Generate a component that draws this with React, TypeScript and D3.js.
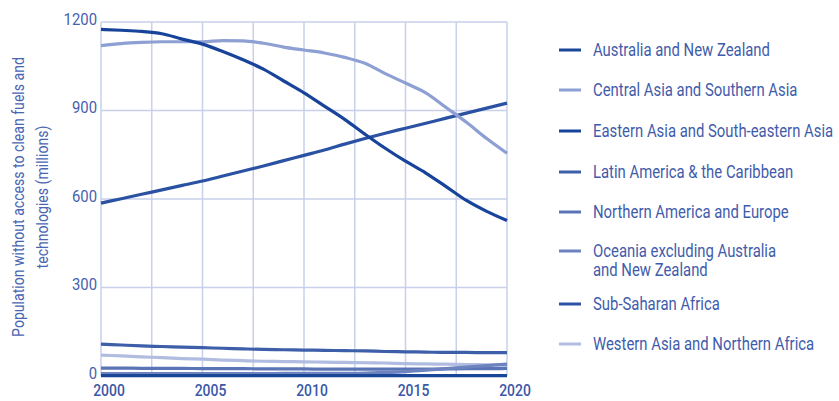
import { useEffect, useRef } from "react"
import * as d3 from "d3"

const years = d3.range(2000, 2021)

const regions = [
  "Australia and New Zealand",
  "Central Asia and Southern Asia",
  "Eastern Asia and South-eastern Asia",
  "Latin America & the Caribbean",
  "Northern America and Europe",
  "Oceania excluding Australia and New Zealand",
  "Sub-Saharan Africa",
  "Western Asia and Northern Africa",
]

const colors = ["#1a4698", "#8d9fd3", "#17439a", "#3d5ea9", "#5a74b6", "#6c83c0", "#2b52a2", "#b0bde0"]

// millions of people, 2000..2020
const australiaNz = [1, 1, 1, 1, 1, 1, 1, 1, 1, 1, 1, 1, 1, 1, 1, 1, 1, 1, 1, 1, 1]
const centralSouthAsia = [1120, 1127, 1131, 1133, 1133, 1133, 1137, 1136, 1128, 1115, 1105, 1095, 1080, 1060, 1025, 993, 960, 910, 860, 805, 755]
const eastSouthEastAsia = [1175, 1172, 1168, 1160, 1142, 1125, 1100, 1072, 1040, 1000, 960, 915, 870, 820, 772, 728, 688, 642, 595, 558, 527]
const latinAmerica = [108, 105, 102, 100, 98, 96, 94, 92, 90, 89, 88, 87, 86, 85, 83, 82, 81, 80, 80, 79, 79]
const northAmericaEurope = [27, 27, 26, 26, 26, 25, 25, 25, 24, 24, 24, 23, 23, 23, 23, 23, 23, 24, 25, 25, 26]
const oceania = [8, 8, 8, 8, 8, 8, 8, 8, 8, 9, 9, 9, 9, 10, 12, 15, 20, 25, 30, 35, 40]
const subSaharanAfrica = [586, 601, 616, 631, 646, 661, 678, 695, 712, 730, 748, 766, 786, 805, 823, 840, 857, 874, 891, 908, 925]
const westAsiaNorthAfrica = [71, 68, 65, 62, 59, 57, 54, 52, 50, 49, 48, 47, 46, 45, 44, 42, 41, 40, 39, 38, 37]

const series = [
  australiaNz,
  centralSouthAsia,
  eastSouthEastAsia,
  latinAmerica,
  northAmericaEurope,
  oceania,
  subSaharanAfrica,
  westAsiaNorthAfrica,
]

const yTicks = [0, 300, 600, 900, 1200]
const xTicks = [2000, 2005, 2010, 2015, 2020]

export default function App() {
  const svgRef = useRef<SVGSVGElement>(null)

  useEffect(() => {
    if (!svgRef.current) return
    const svg = d3.select(svgRef.current)
    svg.selectAll("*").remove()

    const margin = { top: 22, left: 101, right: 332, bottom: 25 }
    const width = 839
    const height = 401
    const x = d3.scaleLinear().domain([2000, 2020]).range([margin.left, width - margin.right])
    const y = d3.scaleLinear().domain([0, 1200]).range([height - margin.bottom, margin.top])

    // condensed look: Roboto squeezed horizontally
    const squeeze = 0.85

    const grid = svg.append("g").attr("stroke", "#c9d0ea").attr("stroke-width", 1.5)
    grid
      .selectAll("line.v")
      .data(d3.range(2000, 2020.1, 2.5))
      .join("line")
      .attr("x1", (d) => x(d))
      .attr("x2", (d) => x(d))
      .attr("y1", y(1200))
      .attr("y2", y(0))
    grid
      .selectAll("line.h")
      .data(yTicks)
      .join("line")
      .attr("x1", x(2000))
      .attr("x2", x(2020))
      .attr("y1", (d) => y(d))
      .attr("y2", (d) => y(d))

    svg
      .append("g")
      .selectAll("text")
      .data(yTicks)
      .join("text")
      .attr("transform", (d) => `translate(${x(2000) - 4}, ${y(d) - 3}) scale(0.9, 1)`)
      .attr("text-anchor", "end")
      .attr("dominant-baseline", "central")
      .attr("fill", "#4661ae")
      .attr("font-size", 16.5)
      .text((d) => d)

    svg
      .append("g")
      .selectAll("text")
      .data(xTicks)
      .join("text")
      .attr("transform", (d) => `translate(${x(d) + 8}, 390.5) scale(0.82, 1)`)
      .attr("text-anchor", "middle")
      .attr("dominant-baseline", "central")
      .attr("fill", "#3a57a8")
      .attr("font-size", 17)
      .attr("font-weight", 500)
      .text((d) => d)

    const title = svg
      .append("text")
      .attr("transform", `translate(18, 197) rotate(-90) scale(0.88, 1)`)
      .attr("text-anchor", "middle")
      .attr("fill", "#4a66b3")
      .attr("font-size", 16)
    title.append("tspan").attr("x", 0).attr("dy", "0.35em").text("Population without access to clean fuels and")
    title.append("tspan").attr("x", 0).attr("dy", 24).text("technologies (millions)")

    const line = d3
      .line<number>()
      .x((_, i) => x(years[i]))
      .y((d) => y(d))
      .curve(d3.curveMonotoneX)

    const drawOrder = [7, 4, 5, 3, 0, 6, 1, 2]
    svg
      .append("g")
      .selectAll("path")
      .data(drawOrder)
      .join("path")
      .attr("d", (i) => line(series[i]))
      .attr("fill", "none")
      .attr("stroke", (i) => colors[i])
      .attr("stroke-width", 3.2)

    const legendY = [50, 90, 131, 172, 212, 251, 304, 344]
    const legend = svg.append("g")
    regions.forEach((name, i) => {
      legend
        .append("line")
        .attr("x1", 559)
        .attr("x2", 581)
        .attr("y1", legendY[i])
        .attr("y2", legendY[i])
        .attr("stroke", colors[i])
        .attr("stroke-width", 3)
      const t = legend
        .append("text")
        .attr("transform", `translate(593, ${legendY[i]}) scale(${squeeze}, 1)`)
        .attr("dominant-baseline", "central")
        .attr("fill", "#3f5cab")
        .attr("font-size", 17.5)
      if (i === 5) {
        t.append("tspan").attr("x", 0).text("Oceania excluding Australia")
        t.append("tspan").attr("x", 0).attr("dy", 19).text("and New Zealand")
      } else {
        t.text(name)
      }
    })
  }, [])

  return (
    <svg
      ref={svgRef}
      width={839}
      height={401}
      style={{ position: "absolute", left: 0, top: 0, fontFamily: "Roboto, sans-serif", background: "#fff" }}
    />
  )
}
